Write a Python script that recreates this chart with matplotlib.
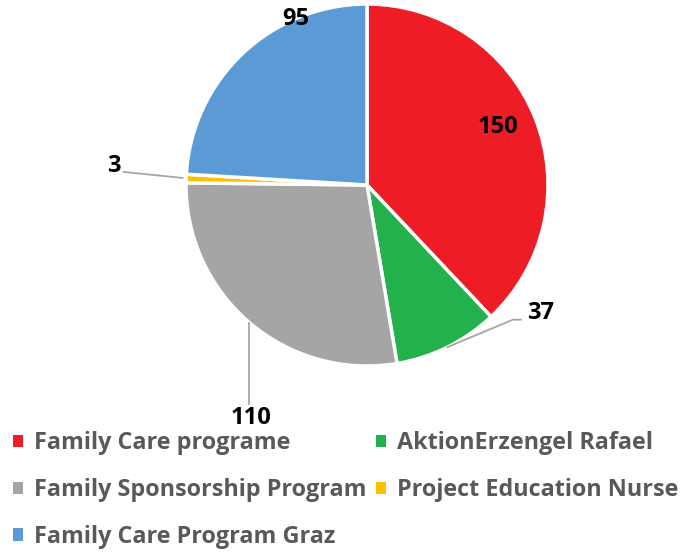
import numpy as np
import matplotlib
matplotlib.use("Agg")
import matplotlib.pyplot as plt
from matplotlib.patches import Patch

categories = ["Family Care programe", "AktionErzengel Rafael", "Family Sponsorship Program",
              "Project Education Nurse", "Family Care Program Graz"]
values = [150, 37, 110, 3, 95]
colors = ["#EE1C25", "#22B14C", "#A5A5A5", "#FFC000", "#5B9BD5"]

plt.rcParams['font.family'] = ['Open Sans', 'DejaVu Sans']

W, H = 683, 552
fig = plt.figure(figsize=(W / 100, H / 100), dpi=100)
cx, cy, R = 367, 185, 181
ax = fig.add_axes([(cx - R) / W, 1 - (cy + R) / H, 2 * R / W, 2 * R / H])
wedges, _ = ax.pie(values, colors=colors, startangle=90, counterclock=False,
                   radius=1.0, wedgeprops=dict(edgecolor="white", linewidth=2.5))
ax.set_xlim(-1, 1)
ax.set_ylim(-1, 1)
ax.set_aspect('equal')
ax.axis('off')

# mid angles
total = sum(values)
ang = 90.0
mids = []
for v in values:
    a = v / total * 360
    mids.append(ang - a / 2)
    ang -= a

lbl_kw = dict(fontsize=17, fontweight='bold', color='black', ha='center', va='center')
line_kw = dict(color='#A6A6A6', lw=1.3)

def edge(i, r=1.0):
    t = np.deg2rad(mids[i])
    return r * np.cos(t), r * np.sin(t)

# 150 inside
ax.text(0.722, 0.322, str(values[0]), **lbl_kw)
# 95 near top
ax.text(-0.394, 0.917, str(values[4]), **lbl_kw)
# 37 with leader
x0, y0 = edge(1)
ax.plot([x0, 0.806, 0.85], [y0, -0.744, -0.744], clip_on=False, **line_kw)
ax.text(0.961, -0.706, str(values[1]), clip_on=False, **lbl_kw)
# 110 with leader
x0, y0 = edge(2)
ax.plot([x0, x0], [y0, -1.21], clip_on=False, **line_kw)
ax.text(x0 + 0.01, -1.29, str(values[2]), clip_on=False, **lbl_kw)
# 3 with leader
x0, y0 = edge(3, 1.02)
ax.plot([x0, -1.344], [0.039, 0.072], clip_on=False, **line_kw)
ax.text(-1.4, 0.106, str(values[3]), clip_on=False, **lbl_kw)

order = [0, 2, 4, 1, 3]
handles = [Patch(facecolor=colors[i], edgecolor='none') for i in order]
labels = [categories[i] for i in order]
leg = fig.legend(handles, labels, loc='upper left', ncol=2,
                 bbox_to_anchor=(0.005, 1 - 422 / H), frameon=False,
                 prop=dict(size=16.8, weight='bold'), labelcolor='#595959',
                 handlelength=0.45, handleheight=0.45, handletextpad=0.45,
                 columnspacing=0.4, labelspacing=0.98, borderaxespad=0)

fig.savefig("out.png", dpi=100)
